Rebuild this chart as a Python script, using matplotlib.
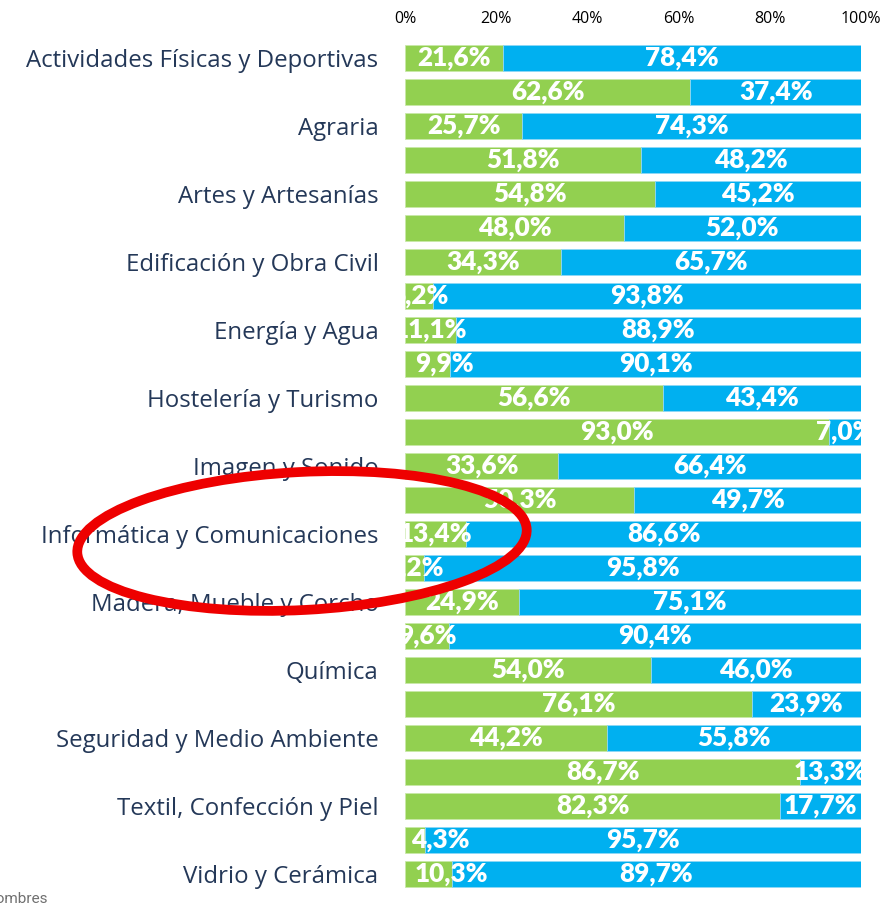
import numpy as np
import matplotlib.pyplot as plt
from matplotlib.patches import Ellipse

# familias profesionales (una etiqueta cada dos barras)
labels = ['Actividades Físicas y Deportivas', '', 'Agraria', '', 'Artes y Artesanías', '',
          'Edificación y Obra Civil', '', 'Energía y Agua', '', 'Hostelería y Turismo', '',
          'Imagen y Sonido', '', 'Informática y Comunicaciones', '', 'Madera, Mueble y Corcho', '',
          'Química', '', 'Seguridad y Medio Ambiente', '', 'Textil, Confección y Piel', '',
          'Vidrio y Cerámica']
mujeres = [21.6, 62.6, 25.7, 51.8, 54.8, 48.0, 34.3, 6.2, 11.1, 9.9, 56.6, 93.0, 33.6,
           50.3, 13.4, 4.2, 24.9, 9.6, 54.0, 76.1, 44.2, 86.7, 82.3, 4.3, 10.3]
hombres = [78.4, 37.4, 74.3, 48.2, 45.2, 52.0, 65.7, 93.8, 88.9, 90.1, 43.4, 7.0, 66.4,
           49.7, 86.6, 95.8, 75.1, 90.4, 46.0, 23.9, 55.8, 13.3, 17.7, 95.7, 89.7]
ticks = [0, 20, 40, 60, 80, 100]

# algunas etiquetas verdes estaban movidas a mano en el original
desplaz = {9: 3.7, 23: 5.5, 24: 5.0}

green = '#92D050'
blue = '#00B0F0'

fig = plt.figure(figsize=(8.84, 9.11), dpi=100)
ax = fig.add_axes([405 / 884, 20 / 911, 456 / 884, 850 / 911])

y = np.arange(len(mujeres))
ax.barh(y, mujeres, height=0.78, color=green, edgecolor='#c9e9a8', linewidth=0.6)
ax.barh(y, hombres, left=mujeres, height=0.78, color=blue, edgecolor='#8fd8f5', linewidth=0.6)

for i in range(len(mujeres)):
    ax.text(mujeres[i] / 2 + desplaz.get(i, 0), i, f'{mujeres[i]:.1f}%'.replace('.', ','),
            ha='center', va='center', color='white', fontsize=18.8, fontweight='heavy',
            family='Lato', clip_on=True)
    ax.text(mujeres[i] + hombres[i] / 2, i, f'{hombres[i]:.1f}%'.replace('.', ','), ha='center',
            va='center', color='white', fontsize=18.8, fontweight='heavy', family='Lato',
            clip_on=True)

ax.set_xlim(0, 100)
ax.set_ylim(len(mujeres) - 0.5, -0.5)
ax.set_yticks(y)
ax.set_yticklabels(labels, fontsize=17.3, color='#243858', family='Open Sans')
ax.set_xticks(ticks)
ax.set_xticklabels([f'{t}%' for t in ticks], fontsize=11.5, family='Open Sans')
ax.xaxis.tick_top()
ax.tick_params(axis='both', length=0)
ax.tick_params(axis='y', pad=19)
ax.tick_params(axis='x', pad=10)
for s in ax.spines.values():
    s.set_visible(False)

fig.text(48 / 884, 1 - 899 / 911, 'Hombres', ha='right', va='center', fontsize=11,
         color='#707070', family='Roboto')

# círculo rojo de resaltado
over = fig.add_axes([0, 0, 1, 1])
over.set_xlim(0, 884)
over.set_ylim(911, 0)
over.axis('off')
over.patch.set_alpha(0)
over.add_patch(Ellipse((302, 541), 450, 138, angle=-3, fill=False, edgecolor='#ee0000',
                       linewidth=7))

fig.savefig('out.png', dpi=100)
